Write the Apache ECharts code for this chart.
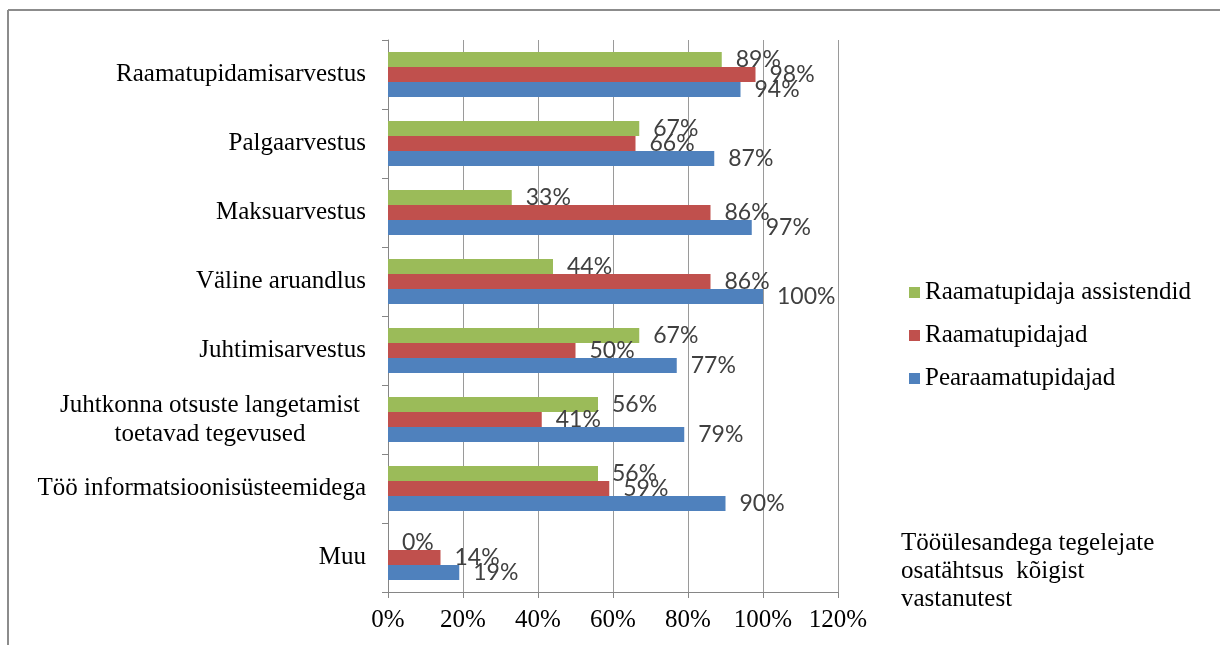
<!DOCTYPE html>
<html>
<head>
<meta charset="utf-8">
<script src="https://cdn.jsdelivr.net/npm/echarts@6/dist/echarts.min.js"></script>
<style>
  html, body { margin: 0; padding: 0; background: #fff; }
  #chart { width: 1220px; height: 645px; }
</style>
</head>
<body>
<div id="chart"></div>
<script>
  // categories top to bottom
  const categories = [
    'Raamatupidamisarvestus',
    'Palgaarvestus',
    'Maksuarvestus',
    'Väline aruandlus',
    'Juhtimisarvestus',
    'Juhtkonna otsuste langetamist\ntoetavad tegevused',
    'Töö informatsioonisüsteemidega',
    'Muu'
  ]
  const assistendid = [89, 67, 33, 44, 67, 56, 56, 0]
  const raamatupidajad = [98, 66, 86, 86, 50, 41, 59, 14]
  const pearaamatupidajad = [94, 87, 97, 100, 77, 79, 90, 19]
  const seriesNames = ['Raamatupidaja assistendid', 'Raamatupidajad', 'Pearaamatupidajad']
  const colors = ['#9bbb59', '#c0504d', '#4f81bd']
  const subtitle = 'Tööülesandega tegelejate\nosatähtsus  kõigist\nvastanutest'

  const serif = '"Liberation Serif", "DejaVu Serif", serif'
  const chart = echarts.init(document.getElementById('chart'))

  const label = {
    show: true,
    position: 'right',
    distance: 14,
    formatter: '{c}%',
    fontFamily: 'Lato, "Open Sans", sans-serif',
    fontSize: 23,
    color: '#404040'
  }

  const mkSeries = (name, data, color) => ({
    name,
    type: 'bar',
    data,
    barGap: '0%',
    barCategoryGap: '35%',
    itemStyle: { color },
    label,
    animation: false
  })

  chart.setOption({
    graphic: [
      { type: 'line', shape: { x1: 8, y1: 10, x2: 1220, y2: 10 }, style: { stroke: '#8c8c8c', lineWidth: 2 } },
      { type: 'line', shape: { x1: 8, y1: 10, x2: 8, y2: 645 }, style: { stroke: '#8c8c8c', lineWidth: 2 } }
    ],
    title: {
      text: subtitle,
      left: 896,
      top: 524,
      textStyle: {
        fontFamily: serif,
        fontSize: 25,
        fontWeight: 'normal',
        color: '#000',
        lineHeight: 28
      }
    },
    legend: {
      data: seriesNames,
      orient: 'vertical',
      left: 904,
      top: 275,
      itemWidth: 11,
      itemHeight: 11,
      itemGap: 18,
      icon: 'rect',
      textStyle: { fontFamily: serif, fontSize: 25, color: '#000' }
    },
    grid: { left: 388, right: 382, top: 40, bottom: 53 },
    xAxis: {
      type: 'value',
      min: 0,
      max: 120,
      interval: 20,
      axisLine: { show: true, lineStyle: { color: '#868686' } },
      axisTick: { show: true, length: 6, lineStyle: { color: '#868686' } },
      splitLine: { show: true, lineStyle: { color: '#9a9a9a' } },
      axisLabel: {
        formatter: '{value}%',
        fontFamily: serif,
        fontSize: 25,
        color: '#000',
        margin: 16
      }
    },
    yAxis: {
      type: 'category',
      inverse: true,
      data: categories,
      axisLine: { lineStyle: { color: '#868686' } },
      axisTick: { show: true, length: 6, lineStyle: { color: '#868686' } },
      axisLabel: {
        fontFamily: serif,
        fontSize: 25,
        color: '#000',
        margin: 22,
        formatter: (v) => {
          if (v.indexOf('\n') < 0) return v
          return v.split('\n').map(s => '{c|' + s + '}').join('\n')
        },
        rich: {
          c: { width: 312, align: 'center', fontFamily: serif, fontSize: 25, color: '#000', lineHeight: 29 }
        }
      }
    },
    series: [
      mkSeries(seriesNames[0], assistendid, colors[0]),
      mkSeries(seriesNames[1], raamatupidajad, colors[1]),
      mkSeries(seriesNames[2], pearaamatupidajad, colors[2])
    ]
  })
</script>
</body>
</html>
